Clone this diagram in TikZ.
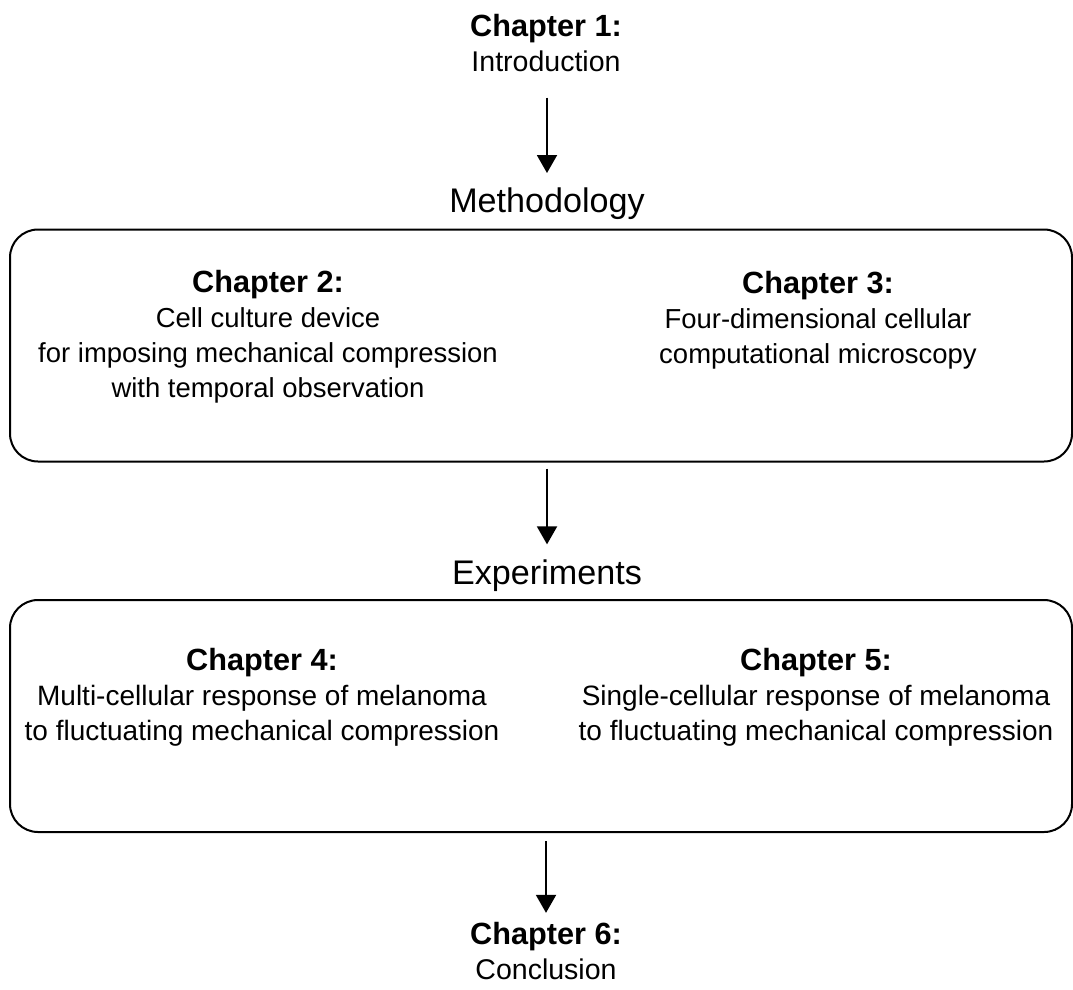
\documentclass[tikz,border=0pt]{standalone}
\usepackage{fontspec}
\setmainfont{Liberation Sans}
\usetikzlibrary{arrows.meta}

\newcommand{\chaphead}[1]{{\fontsize{23}{26.25}\selectfont\bfseries #1}}

\begin{document}
\begin{tikzpicture}[x=0.75pt,y=-0.75pt,
    txt/.style={inner sep=0pt, anchor=base, align=center, font=\fontsize{20.6}{26.25}\selectfont},
    part/.style={inner sep=0pt, anchor=base, font=\fontsize{25.6}{30}\selectfont},
    panel/.style={draw, line width=1.5pt, rounded corners=21pt, minimum width=796.5pt, minimum height=174pt, inner sep=0pt},
    flow/.style={line width=1.5pt, -{Triangle[width=15pt,length=13.5pt]}}]
    \useasboundingbox (0,0) rectangle (1073,989);
    % introduction
    \node[txt, font=\fontsize{21.4}{26.25}\selectfont] (ch1) at (546,71) {\chaphead{Chapter 1:}\\Introduction};
    \node[part] (meth) at (547,212) {Methodology};
    \draw[flow, shorten <=19.5pt, shorten >=10.5pt] (ch1.south -| meth.north) -- (meth.north);
    % methodologie
    \node[panel] (box1) at (541,345.5) {};
    \node[txt] (ch2) at (268,397) {\chaphead{Chapter 2:}\\Cell culture device\\for imposing mechanical compression\\with temporal observation};
    \node[txt] (ch3) at (818,363) {\chaphead{Chapter 3:}\\Four-dimensional cellular\\computational microscopy};
    % experiences
    \node[part] (exp) at (547,584) {Experiments};
    \draw[flow, shorten <=4.5pt, shorten >=11pt] (box1.south -| exp.north) -- (exp.north);
    \node[panel] (box2) at (541,716) {};
    \node[txt, font=\fontsize{21}{26.25}\selectfont] (ch4) at (262,740) {\chaphead{Chapter 4:}\\Multi-cellular response of melanoma\\to fluctuating mechanical compression};
    \node[txt, font=\fontsize{21}{26.25}\selectfont] (ch5) at (816,740) {\chaphead{Chapter 5:}\\Single-cellular response of melanoma\\to fluctuating mechanical compression};
    % conclusion
    \node[txt, font=\fontsize{21.4}{26.25}\selectfont] (ch6) at (546,979) {\chaphead{Chapter 6:}\\Conclusion};
    \draw[flow, shorten <=6pt, shorten >=6.5pt] (box2.south -| ch6.north) -- (ch6.north);
\end{tikzpicture}
\end{document}
